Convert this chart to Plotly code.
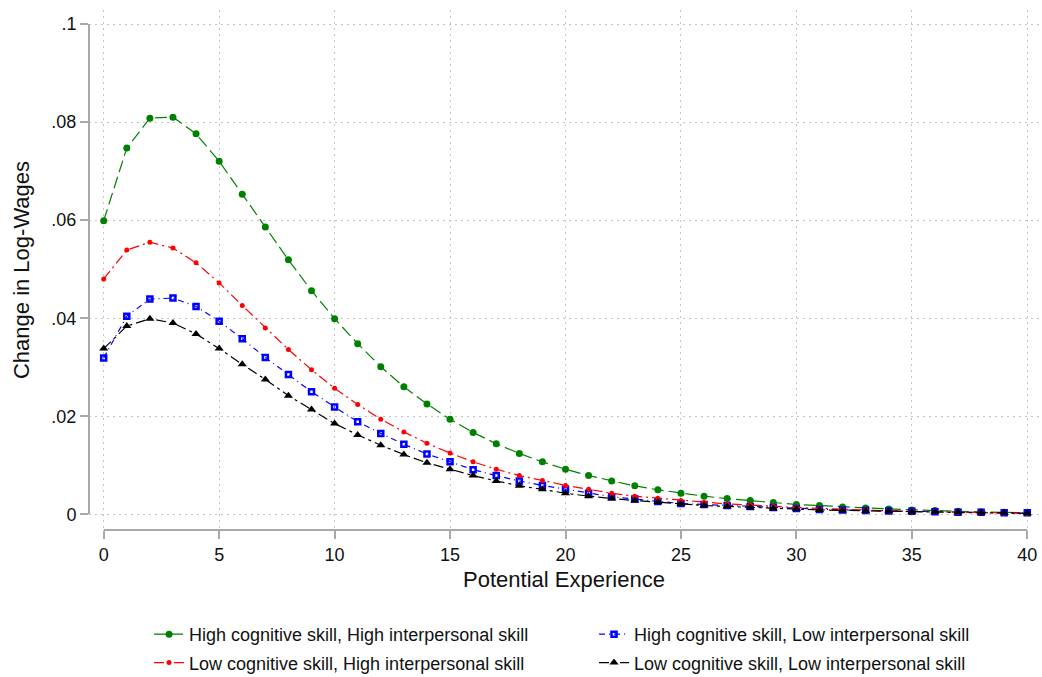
import plotly.graph_objects as go

experience = list(range(41))

high_cog_high_inter = [0.0599, 0.0747, 0.0808, 0.0810, 0.0776, 0.0720, 0.0653, 0.0586, 0.0519, 0.0456,
                       0.0399, 0.0348, 0.0301, 0.0260, 0.0225, 0.0194, 0.0167, 0.0144, 0.0124, 0.0107,
                       0.0092, 0.0079, 0.0068, 0.0058, 0.0050, 0.0043, 0.0037, 0.0032, 0.0028, 0.0024,
                       0.0020, 0.0018, 0.0015, 0.0013, 0.0011, 0.0009, 0.0008, 0.0006, 0.0005, 0.0004,
                       0.0003]
low_cog_high_inter = [0.0480, 0.0539, 0.0555, 0.0543, 0.0513, 0.0472, 0.0426, 0.0380, 0.0336, 0.0295,
                      0.0257, 0.0224, 0.0194, 0.0168, 0.0145, 0.0125, 0.0107, 0.0092, 0.0079, 0.0069,
                      0.0059, 0.0051, 0.0043, 0.0037, 0.0033, 0.0028, 0.0024, 0.0021, 0.0019, 0.0016,
                      0.0014, 0.0012, 0.0010, 0.0009, 0.0007, 0.0006, 0.0005, 0.0004, 0.0004, 0.0003,
                      0.0002]
high_cog_low_inter = [0.0319, 0.0404, 0.0439, 0.0441, 0.0424, 0.0394, 0.0358, 0.0320, 0.0285, 0.0250,
                      0.0219, 0.0189, 0.0165, 0.0143, 0.0123, 0.0107, 0.0091, 0.0079, 0.0068, 0.0059,
                      0.0051, 0.0043, 0.0036, 0.0031, 0.0026, 0.0022, 0.0020, 0.0018, 0.0016, 0.0014,
                      0.0012, 0.0010, 0.0009, 0.0008, 0.0007, 0.0006, 0.0005, 0.0004, 0.0004, 0.0003,
                      0.0003]
low_cog_low_inter = [0.0338, 0.0384, 0.0399, 0.0390, 0.0368, 0.0338, 0.0306, 0.0275, 0.0242, 0.0214,
                     0.0185, 0.0162, 0.0141, 0.0122, 0.0105, 0.0092, 0.0079, 0.0068, 0.0058, 0.0051,
                     0.0043, 0.0037, 0.0032, 0.0028, 0.0025, 0.0021, 0.0018, 0.0016, 0.0014, 0.0012,
                     0.0011, 0.0009, 0.0008, 0.0007, 0.0006, 0.0005, 0.0005, 0.0004, 0.0003, 0.0003,
                     0.0002]

series_names = ["High cognitive skill, High interpersonal skill",
                "High cognitive skill, Low interpersonal skill",
                "Low cognitive skill, High interpersonal skill",
                "Low cognitive skill, Low interpersonal skill"]

x_ticks = [0, 5, 10, 15, 20, 25, 30, 35, 40]
y_ticks = [0, 0.02, 0.04, 0.06, 0.08, 0.1]
y_tick_labels = ["0", ".02", ".04", ".06", ".08", ".1"]

FONT = "Liberation Sans, Arial, Helvetica, sans-serif"
AXIS_GRAY = "#a9a9a9"

fig = go.Figure()

styles = [
    (high_cog_high_inter, "#008000", "12px,5px", dict(symbol="circle", size=7), "legend", "g1"),
    (high_cog_low_inter, "#0000ff", "6px,4px,1px,4px", dict(symbol="square-open", size=5, line=dict(width=2.5, color="#0000ff")), "legend2", "g2"),
    (low_cog_high_inter, "#ff0000", "10px,4px,2px,4px", dict(symbol="circle", size=5), "legend", "g3"),
    (low_cog_low_inter, "#000000", "10px,4px,3px,4px", dict(symbol="triangle-up", size=8), "legend2", "g4"),
]

for (vals, color, dash, marker, leg, grp), name in zip(styles, series_names):
    fig.add_trace(go.Scatter(
        x=experience, y=vals, name=name, mode="lines+markers",
        line=dict(color=color, width=1.2, dash=dash),
        marker=dict(color=color, **marker),
        legend=leg, legendgroup=grp,
    ))

# white strips so the dotted grid stops short of the offset axes (Stata style)
fig.add_shape(type="rect", xref="paper", yref="paper", x0=0, x1=0.0063, y0=0, y1=1,
              fillcolor="white", line=dict(width=0), layer="between")
fig.add_shape(type="rect", xref="paper", yref="paper", x0=0, x1=1, y0=0, y1=0.0135,
              fillcolor="white", line=dict(width=0), layer="between")
# offset axis lines spanning only the data range
fig.add_shape(type="line", xref="paper", yref="y", x0=0, x1=0, y0=0, y1=0.1,
              line=dict(color=AXIS_GRAY, width=2), layer="above")
fig.add_shape(type="line", xref="x", yref="paper", x0=0, x1=40, y0=0, y1=0,
              line=dict(color=AXIS_GRAY, width=2), layer="above")

fig.update_layout(
    width=1042, height=677,
    margin=dict(l=89, r=3, t=10, b=147, autoexpand=False),
    paper_bgcolor="white", plot_bgcolor="white",
    font=dict(family=FONT, size=18, color="#111111"),
    xaxis=dict(
        range=[-0.6366, 40.507], automargin=False,
        tickvals=x_ticks, ticks="outside", ticklen=8, tickwidth=2, tickcolor=AXIS_GRAY,
        showline=False, zeroline=False,
        showgrid=True, gridcolor="#c4c4c4", gridwidth=1, griddash="2px,4px",
        title=dict(text="Potential Experience", font=dict(size=22), standoff=8),
        tickfont=dict(size=18),
    ),
    yaxis=dict(
        range=[-0.0032, 0.10286], automargin=False,
        tickvals=y_ticks, ticktext=y_tick_labels, ticks="outside", ticklen=8, tickwidth=2,
        tickcolor=AXIS_GRAY, showline=False, zeroline=False,
        showgrid=True, gridcolor="#c4c4c4", gridwidth=1, griddash="2px,4px",
        title=dict(text="Change in Log-Wages", font=dict(size=22), standoff=15),
        tickfont=dict(size=18),
    ),
    legend=dict(x=0.0632, y=-0.1654, xanchor="left", yanchor="top", orientation="v",
                font=dict(size=18), tracegroupgap=2, bgcolor="rgba(0,0,0,0)"),
    legend2=dict(x=0.5316, y=-0.1654, xanchor="left", yanchor="top", orientation="v",
                 font=dict(size=18), tracegroupgap=2, bgcolor="rgba(0,0,0,0)"),
    showlegend=True,
)

fig.write_html("out.html")
